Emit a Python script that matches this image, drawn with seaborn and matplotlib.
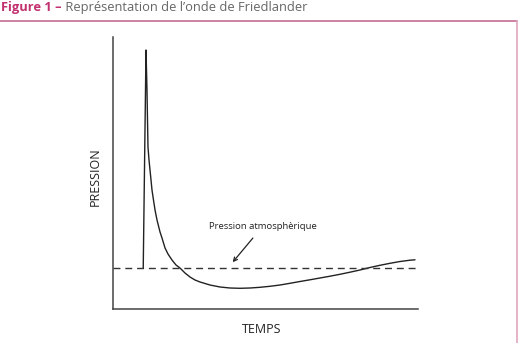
import matplotlib
matplotlib.use("Agg")
import matplotlib.pyplot as plt
from matplotlib.lines import Line2D
import seaborn as sns
import pandas as pd

# Data (arbitrary units)
temps = [10.00, 10.91, 11.07, 11.23, 11.40, 11.56, 11.89, 12.22, 12.55, 12.87,
         13.36, 13.86, 14.51, 15.50, 16.15, 17.14, 18.11, 19.42, 20.73, 22.04,
         23.68, 25.32, 26.96, 28.60, 31.87, 35.15, 38.42, 41.70, 44.97, 48.25,
         51.52, 54.80, 58.07, 61.35, 64.62, 67.90, 71.17, 74.45, 77.72, 81.00,
         84.28, 87.55, 90.83, 94.10, 97.38, 99.02]
pression = [15.07, 95.22, 87.87, 80.51, 69.49, 59.56, 54.78, 51.10, 47.43, 43.75,
            40.07, 36.40, 32.72, 28.31, 26.10, 22.43, 20.22, 18.01, 16.18, 15.07,
            13.24, 11.76, 10.66, 9.93, 8.82, 8.09, 7.72, 7.61, 7.72, 7.98,
            8.35, 8.82, 9.45, 10.11, 10.74, 11.40, 12.06, 12.76, 13.53, 14.34,
            15.26, 16.07, 16.80, 17.46, 17.94, 18.09]
p_atm = 15.07
x_label = "TEMPS"
y_label = "PRESSION"
annotation = "Pression atmosphèrique"
title_a = "Figure 1 –"
title_b = " Représentation de l’onde de Friedlander"

sns.set_style("white")
plt.rcParams["font.family"] = ["Open Sans", "DejaVu Sans"]

W, H = 520, 343
fig = plt.figure(figsize=(W / 100, H / 100), dpi=100)
x0, x1, y0, y1 = 112.7, 418.0, 37.0, 309.0
ax = fig.add_axes([x0 / W, 1 - y1 / H, (x1 - x0) / W, (y1 - y0) / H])

df = pd.DataFrame({"t": temps, "p": pression})
sns.lineplot(data=df, x="t", y="p", ax=ax, color="#222222", linewidth=1.0,
             sort=False, estimator=None)
ax.plot([0, 100.3], [p_atm, p_atm], color="#333333", linewidth=1.0,
        dashes=(5, 3.5))

ax.set_xlim(0, 100)
ax.set_ylim(0, 100)
ax.set_xticks([])
ax.set_yticks([])
for s in ["top", "right"]:
    ax.spines[s].set_visible(False)
for s in ["left", "bottom"]:
    ax.spines[s].set_color("#444444")
    ax.spines[s].set_linewidth(1.1)
ax.set_xlabel(x_label, fontsize=9, color="#222222")
ax.set_ylabel(y_label, fontsize=9, color="#222222")
ax.xaxis.set_label_coords((262 - x0) / (x1 - x0), -(323 - y1) / (y1 - y0))
ax.yaxis.set_label_coords(-(x0 - 101.5) / (x1 - x0), (y1 - 177) / (y1 - y0))

ax.annotate(annotation, xy=(39.3, 17.2), xytext=(49.2, 30.5),
            fontsize=6.8, color="#222222", ha="center", va="center",
            arrowprops=dict(arrowstyle="->", color="#222222", lw=0.9,
                            shrinkA=4, shrinkB=0))

# Pink frame
fig.add_artist(Line2D([0, 517 / W], [1 - 20.5 / H] * 2, transform=fig.transFigure,
                      color="#c46d93", linewidth=1.2))
fig.add_artist(Line2D([517 / W] * 2, [1 - 20.5 / H, 0], transform=fig.transFigure,
                      color="#e2a6bf", linewidth=1.2))

# Title
ty = 1 - 1.5 / H
ta = fig.text(1 / W, ty, title_a, fontsize=9.3, fontweight="bold",
              color="#c2306f", va="top", ha="left")
fig.canvas.draw()
bb = ta.get_window_extent()
fig.text(bb.x1 / W, ty, title_b, fontsize=9.3, color="#666666",
         va="top", ha="left")

fig.savefig("out.png", dpi=100)
